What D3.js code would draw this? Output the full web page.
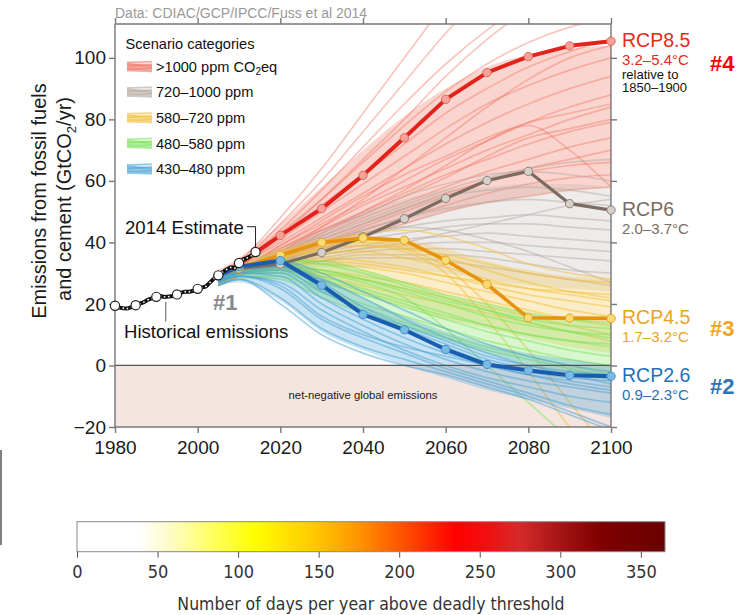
<!DOCTYPE html>
<html>
<head>
<meta charset="utf-8">
<script src="https://cdn.jsdelivr.net/npm/d3@7/dist/d3.min.js"></script>
<style>
  body { margin: 0; background: #fff; }
  svg { display: block; font-family: "Liberation Sans", Arial, sans-serif; }
</style>
</head>
<body>
<script>
  // historical emissions, GtCO2/yr
  const histYears = d3.range(1980, 2015)
  const histValues = [19.4, 18.8, 18.6, 18.5, 19.0, 19.6, 20.1, 20.6, 21.4, 21.8,
    22.3, 22.6, 22.3, 22.4, 22.6, 23.1, 23.7, 24.0, 24.0, 24.3,
    24.9, 25.3, 25.7, 27.0, 28.3, 29.3, 30.3, 31.2, 31.9, 31.6,
    33.3, 34.5, 35.0, 35.7, 36.9]
  const histMarkerYears = [1980, 1985, 1990, 1995, 2000, 2005, 2010, 2014]

  // scenario years (RCPs and ensemble runs)
  const runYears = [2005, 2010, 2020, 2030, 2040, 2050, 2060, 2070, 2080, 2090, 2100]

  const rcp85 = [29.2, 32.9, 42.3, 51.0, 61.8, 74.0, 86.5, 95.2, 100.4, 103.9, 105.4]
  const rcp6 = [29.2, 31.5, 33.0, 36.7, 41.8, 47.7, 54.3, 60.1, 63.1, 52.6, 50.5]
  const rcp45 = [29.2, 31.6, 35.8, 40.0, 41.4, 40.7, 34.2, 26.4, 15.5, 15.4, 15.3]
  const rcp26 = [29.2, 32.1, 34.1, 26.1, 16.6, 11.6, 5.2, 0.3, -1.6, -3.2, -3.5]

  const rcpNames = ['RCP8.5', 'RCP6', 'RCP4.5', 'RCP2.6']
  const rcpRanges = ['3.2–5.4°C', '2.0–3.7°C', '1.7–3.2°C', '0.9–2.3°C']
  const rcpRanks = ['#4', '', '#3', '#2']

  // ensemble runs by category
  const runsOver1000 = [
    [30, 34, 48, 64, 82, 100, 118, 135, 150, 160, 168],
    [29, 33, 46, 60, 76, 92, 108, 122, 134, 142, 148],
    [29, 33, 44, 57, 71, 85, 98, 109, 118, 124, 128],
    [28, 32, 42, 54, 67, 80, 94, 106, 116, 124, 130],
    [28, 32, 43, 54, 66, 78, 89, 98, 105, 110, 113],
    [29, 33, 42, 52, 62, 72, 82, 90, 97, 102, 106],
    [27, 30, 37, 45, 54, 64, 74, 84, 93, 100, 104],
    [28, 32, 41, 50, 59, 68, 77, 85, 91, 96, 100],
    [28, 32, 40, 48, 56, 64, 72, 79, 85, 90, 94],
    [28, 31, 39, 46, 53, 60, 67, 73, 79, 84, 88],
    [27, 31, 39, 47, 55, 62, 68, 74, 79, 82, 85],
    [27, 31, 38, 45, 52, 58, 64, 70, 75, 80, 84],
    [28, 31, 38, 44, 49, 55, 61, 68, 74, 77, 80],
    [27, 31, 37, 44, 50, 56, 62, 67, 72, 76, 79],
    [27, 30, 36, 43, 50, 57, 65, 73, 78, 70, 58],
    [27, 30, 36, 42, 48, 53, 58, 63, 67, 71, 74],
    [27, 30, 35, 41, 46, 51, 56, 60, 64, 67, 70],
    [26, 30, 35, 40, 45, 50, 55, 60, 63, 65, 66],
    [26, 29, 34, 39, 44, 48, 52, 56, 59, 61, 62],
    [26, 29, 34, 38, 42, 46, 50, 53, 55, 57, 58]
  ]
  const runs720 = [
    [29, 32, 37, 42, 47, 52, 57, 61, 64, 66, 67],
    [29, 32, 37, 43, 49, 55, 59, 62, 63, 62, 60],
    [29, 32, 36, 41, 46, 51, 55, 57, 58, 57, 55],
    [28, 31, 34, 36, 38, 40, 43, 46, 49, 52, 54],
    [28, 31, 35, 40, 44, 48, 51, 53, 54, 53, 52],
    [28, 31, 35, 39, 42, 45, 47, 48, 49, 48, 47],
    [28, 31, 34, 38, 41, 43, 45, 46, 46, 45, 44],
    [28, 31, 34, 37, 39, 41, 42, 43, 42, 41, 40],
    [28, 30, 33, 36, 38, 39, 40, 40, 39, 38, 37],
    [27, 30, 33, 35, 37, 38, 38, 37, 36, 35, 34],
    [27, 30, 32, 34, 36, 36, 36, 35, 33, 31, 30],
    [28, 31, 36, 40, 43, 45, 44, 41, 37, 32, 27],
    [27, 30, 32, 34, 35, 35, 34, 32, 30, 28, 26]
  ]
  const runs580 = [
    [28, 31, 36, 40, 43, 44, 42, 38, 33, 30, 28],
    [29, 32, 37, 40, 41, 39, 35, 31, 27, 24, 22],
    [28, 31, 35, 38, 39, 38, 36, 33, 30, 28, 27],
    [28, 31, 35, 37, 37, 35, 32, 28, 25, 23, 21],
    [27, 30, 33, 34, 33, 31, 29, 27, 25, 24, 23],
    [28, 31, 34, 35, 34, 32, 29, 26, 23, 21, 19],
    [27, 30, 33, 33, 32, 30, 27, 24, 21, 18, 16],
    [27, 30, 32, 31, 29, 27, 24, 21, 18, 15, 13],
    [27, 30, 31, 30, 28, 25, 22, 19, 16, 13, 10],
    [27, 30, 31, 29, 26, 23, 20, 17, 14, 11, 8],
    [28, 31, 35, 38, 39, 37, 30, 15, -2, -20, -35],
    [28, 31, 36, 39, 40, 38, 32, 20, 5, -12, -28]
  ]
  const runs480 = [
    [28, 31, 34, 34, 31, 27, 23, 20, 17, 15, 14],
    [28, 31, 34, 33, 30, 26, 22, 18, 15, 13, 12],
    [28, 31, 33, 31, 28, 24, 20, 16, 13, 11, 10],
    [27, 30, 32, 31, 28, 25, 21, 18, 14, 11, 9],
    [27, 30, 31, 28, 24, 20, 16, 13, 10, 8, 7],
    [27, 30, 32, 29, 25, 21, 17, 13, 10, 8, 6],
    [27, 30, 31, 27, 23, 19, 15, 11, 8, 5, 3],
    [27, 30, 30, 25, 20, 16, 12, 8, 5, 2, 0],
    [27, 29, 29, 24, 19, 14, 10, 6, 3, 0, -3],
    [26, 29, 28, 22, 17, 13, 9, 5, 2, -1, -4],
    [27, 30, 32, 30, 27, 22, 12, 0, -12, -24, -36]
  ]
  const runs430 = [
    [28, 31, 34, 30, 24, 18, 12, 7, 3, 0, -2],
    [28, 31, 33, 27, 19, 13, 8, 3, 0, -2, -3],
    [28, 30, 32, 28, 22, 15, 9, 4, 0, -3, -6],
    [28, 31, 32, 25, 17, 11, 6, 1, -2, -4, -5],
    [27, 30, 31, 24, 18, 12, 7, 2, -1, -3, -4],
    [27, 30, 30, 22, 15, 9, 4, 0, -3, -5, -7],
    [27, 30, 29, 20, 13, 7, 2, -2, -5, -7, -9],
    [27, 29, 27, 18, 11, 5, 0, -4, -7, -10, -12],
    [27, 29, 26, 16, 10, 6, 3, 0, -3, -6, -8],
    [27, 29, 25, 15, 9, 4, -1, -5, -9, -13, -16],
    [26, 28, 22, 12, 6, 2, -2, -6, -10, -15, -20],
    [26, 28, 20, 10, 4, 0, -3, -7, -11, -16, -21]
  ]

  // dense core of each category (lower / upper edge, same years)
  const coreLow = [
    [26, 29, 34, 38, 42, 46, 50, 53, 55, 57, 58],
    [27, 29, 31, 32, 32, 31, 30, 28, 26, 25, 24],
    [27, 29, 30, 27, 23, 19, 15, 12, 9, 6, 4],
    [26, 28, 28, 22, 17, 12, 8, 4, 0, -3, -5],
    [26, 27, 21, 11, 5, 0, -4, -8, -11, -14, -17]
  ]
  const coreHigh = [
    [31, 35, 46, 58, 70, 81, 90, 97, 101, 103, 104],
    [30, 33, 38, 44, 50, 54, 57, 58, 59, 59, 58],
    [30, 33, 38, 41, 42, 41, 38, 34, 31, 29, 28],
    [29, 32, 35, 34, 31, 27, 23, 20, 17, 15, 14],
    [29, 32, 34, 29, 22, 16, 11, 7, 4, 2, 0]
  ]

  const categoryNames = ['>1000 ppm CO₂eq', '720–1000 ppm', '580–720 ppm', '480–580 ppm', '430–480 ppm']

  // colour bar
  const barTicks = [0, 50, 100, 150, 200, 250, 300, 350]
  const barStopDays = [0, 38, 55, 80, 110, 150, 175, 205, 235, 255, 275, 300, 325, 365]
  const barStopColors = ['#ffffff', '#ffffff', '#fffbd0', '#ffff70', '#ffff00', '#ffc400', '#ff9400',
    '#ff4a00', '#ff0000', '#f01010', '#d42a2a', '#a51414', '#800000', '#6a0000']

  // ---------- drawing ----------
  const W = 740, H = 615
  const svg = d3.select('body').append('svg').attr('width', W).attr('height', H)

  const x = d3.scaleLinear().domain([1980, 2100]).range([115, 611])
  const y = d3.scaleLinear().domain([-20, 111]).range([427, 24])

  const runColors = ['#f0705e', '#b3a79e', '#f2c03a', '#7ee35c', '#4aa3d6']
  const runOpacity = [0.4, 0.45, 0.5, 0.5, 0.5]
  const coreOpacity = [0.3, 0.22, 0.28, 0.3, 0.3]
  const rcpColors = ['#e3231b', '#7b6b60', '#e8930c', '#1a5db0']
  const rcpFill = ['#f5a39a', '#d6d0ca', '#f8dc72', '#78bce6']
  const rcpStroke = ['#e06a5c', '#8c8078', '#e0a42a', '#4a90c8']
  const rcpText = ['#e8291c', '#7a6c62', '#eba320', '#1f6fb8']
  const rankColors = ['#ff0000', '', '#f2a320', '#2e74b5']

  svg.append('text').attr('x', 115).attr('y', 18)
    .attr('fill', '#999').attr('font-size', 14)
    .text('Data: CDIAC/GCP/IPCC/Fuss et al 2014')

  svg.append('clipPath').attr('id', 'plotClip')
    .append('rect').attr('x', x(1980)).attr('y', y(111))
    .attr('width', x(2100) - x(1980)).attr('height', y(-20) - y(111))

  // net-negative band
  svg.append('rect').attr('x', x(1980)).attr('y', y(0))
    .attr('width', x(2100) - x(1980)).attr('height', y(-20) - y(0))
    .attr('fill', '#f5e5e0')
  svg.append('text').attr('x', 363).attr('y', 395).attr('dy', '0.35em')
    .attr('text-anchor', 'middle').attr('font-size', 11.3).attr('fill', '#222')
    .text('net-negative global emissions')

  const runLine = d3.line()
    .x((d, i) => x(runYears[i])).y(d => y(d))
    .curve(d3.curveMonotoneX)
  const coreArea = d3.area()
    .x((d, i) => x(runYears[i])).y0(d => y(d[0])).y1(d => y(d[1]))
    .curve(d3.curveMonotoneX)

  const runGroup = svg.append('g').attr('clip-path', 'url(#plotClip)')
  const allRuns = [runsOver1000, runs720, runs580, runs480, runs430]
  allRuns.forEach((runs, k) => {
    runGroup.append('path')
      .datum(coreLow[k].map((lo, i) => [lo, coreHigh[k][i]]))
      .attr('d', coreArea)
      .attr('fill', runColors[k]).attr('fill-opacity', coreOpacity[k])
    runGroup.append('g').selectAll('path').data(runs).join('path')
      .attr('d', runLine)
      .attr('fill', 'none')
      .attr('stroke', runColors[k])
      .attr('stroke-opacity', runOpacity[k])
      .attr('stroke-width', 1.7)
  })

  // zero line
  svg.append('line').attr('x1', x(1980)).attr('x2', x(2100))
    .attr('y1', y(0)).attr('y2', y(0))
    .attr('stroke', '#555').attr('stroke-width', 1.2)

  // axes
  const axisColor = '#777'
  const frame = svg.append('g').attr('stroke', axisColor).attr('stroke-width', 1.4).attr('fill', 'none')
  frame.append('line').attr('x1', x(1980)).attr('x2', x(2100)).attr('y1', y(111)).attr('y2', y(111))
  frame.append('line').attr('x1', x(1980)).attr('x2', x(2100)).attr('y1', y(-20)).attr('y2', y(-20))
  frame.append('line').attr('x1', x(1980)).attr('x2', x(1980)).attr('y1', y(111)).attr('y2', y(-20))
  frame.append('line').attr('x1', x(2100)).attr('x2', x(2100)).attr('y1', y(111)).attr('y2', y(-20))

  const xTicks = d3.range(1980, 2101, 20)
  const yTicks = d3.range(-20, 101, 20)

  const bottomAxis = svg.append('g').attr('transform', `translate(0,${y(-20)})`)
    .call(d3.axisBottom(x).tickValues(xTicks).tickFormat(d3.format('d')).tickSize(6).tickPadding(5))
  const topAxis = svg.append('g').attr('transform', `translate(0,${y(111)})`)
    .call(d3.axisTop(x).tickValues(xTicks).tickFormat('').tickSize(6))
  const leftAxis = svg.append('g').attr('transform', `translate(${x(1980)},0)`)
    .call(d3.axisLeft(y).tickValues(yTicks).tickSize(6).tickPadding(3))
  const rightAxis = svg.append('g').attr('transform', `translate(${x(2100)},0)`)
    .call(d3.axisRight(y).tickValues(yTicks).tickFormat('').tickSize(6))

  ;[bottomAxis, topAxis, leftAxis, rightAxis].forEach(a => {
    a.select('.domain').remove()
    a.selectAll('.tick line').attr('stroke', axisColor).attr('stroke-width', 1.4)
    a.selectAll('.tick text').attr('fill', '#1a1a1a').attr('font-size', 19)
      .attr('font-family', '"Liberation Sans", Arial, sans-serif')
  })
  bottomAxis.selectAll('.tick text').attr('dy', '0.85em')

  // y-axis title
  const yTitle = svg.append('g').attr('font-size', 20).attr('fill', '#1a1a1a').attr('text-anchor', 'middle')
  yTitle.append('text').attr('transform', 'translate(46,201) rotate(-90)').text('Emissions from fossil fuels')
  const t2 = yTitle.append('text').attr('transform', 'translate(71,199) rotate(-90)')
  t2.append('tspan').text('and cement (GtCO')
  t2.append('tspan').attr('font-size', 13).attr('dy', 5).text('2')
  t2.append('tspan').attr('dy', -5).text('/yr)')

  // RCP pathways
  const rcpLine = d3.line().x((d, i) => x(runYears[i])).y(d => y(d))
  const rcpSeries = [rcp85, rcp6, rcp45, rcp26]
  const drawOrder = [1, 2, 0, 3]
  const rcpWidths = [4, 3.2, 3.6, 4]
  drawOrder.forEach(k => {
    const g = svg.append('g')
    g.append('path').datum(rcpSeries[k]).attr('d', rcpLine)
      .attr('fill', 'none').attr('stroke', rcpColors[k])
      .attr('stroke-width', rcpWidths[k]).attr('stroke-linejoin', 'round')
    g.selectAll('circle').data(rcpSeries[k]).join('circle')
      .attr('cx', (d, i) => x(runYears[i])).attr('cy', d => y(d)).attr('r', 4.2)
      .attr('fill', rcpFill[k]).attr('stroke', rcpStroke[k]).attr('stroke-width', 1)
  })

  // RCP labels on the right
  rcpSeries.forEach((s, k) => {
    const yy = y(s[s.length - 1])
    svg.append('text').attr('x', 622).attr('y', yy - 1).attr('dy', '0.36em')
      .attr('font-size', 19.5).attr('fill', rcpText[k]).text(rcpNames[k])
    svg.append('text').attr('x', 622).attr('y', yy + 18).attr('dy', '0.36em')
      .attr('font-size', 15).attr('fill', rcpText[k]).text(rcpRanges[k])
    if (rcpRanks[k]) {
      svg.append('text').attr('x', 710).attr('y', yy + (k === 0 ? 22 : 10)).attr('dy', '0.36em')
        .attr('font-size', 22).attr('font-weight', 'bold').attr('fill', rankColors[k]).text(rcpRanks[k])
    }
  })
  svg.append('text').attr('x', 622).attr('y', y(rcp85[10]) + 33).attr('dy', '0.36em')
    .attr('font-size', 13).attr('fill', '#111').text('relative to')
  svg.append('text').attr('x', 622).attr('y', y(rcp85[10]) + 46.5).attr('dy', '0.36em')
    .attr('font-size', 13).attr('fill', '#111').text('1850–1900')

  // historical emissions
  const histLine = d3.line().x((d, i) => x(histYears[i])).y(d => y(d))
  svg.append('path').datum(histValues).attr('d', histLine)
    .attr('fill', 'none').attr('stroke', '#111').attr('stroke-width', 4)
  svg.append('g').selectAll('circle').data(histValues).join('circle')
    .attr('cx', (d, i) => x(histYears[i])).attr('cy', d => y(d)).attr('r', 0.9).attr('fill', '#fff')
  svg.append('g').selectAll('circle').data(histMarkerYears).join('circle')
    .attr('cx', d => x(d)).attr('cy', d => y(histValues[d - 1980])).attr('r', 4.6)
    .attr('fill', '#fff').attr('stroke', '#222').attr('stroke-width', 1.2)

  // annotations
  svg.append('text').attr('x', 125).attr('y', 227.5).attr('dy', '0.36em')
    .attr('font-size', 18.6).attr('fill', '#111').text('2014 Estimate')
  svg.append('path').attr('d', `M247,226.7H${x(2014)}V${y(histValues[34]) - 5}`)
    .attr('fill', 'none').attr('stroke', '#222').attr('stroke-width', 1)
  svg.append('line').attr('x1', 165.7).attr('x2', 165.7).attr('y1', y(22.3) + 5).attr('y2', 321.5)
    .attr('stroke', '#777').attr('stroke-width', 1.2)
  svg.append('text').attr('x', 124).attr('y', 331.5).attr('dy', '0.36em')
    .attr('font-size', 18.6).attr('fill', '#111').text('Historical emissions')
  svg.append('text').attr('x', 213).attr('y', 302).attr('dy', '0.36em')
    .attr('font-size', 22).attr('font-weight', 'bold').attr('fill', '#888').text('#1')

  // legend
  const legend = svg.append('g')
  legend.append('text').attr('x', 125.5).attr('y', 43.5).attr('dy', '0.36em')
    .attr('font-size', 14.6).attr('fill', '#111').text('Scenario categories')
  const swatchLines = [[-4, -5], [-2, -1], [0, -2], [1, 2], [3, 2], [4, 5], [-1, 1], [-3, 0], [2, 4]]
  categoryNames.forEach((name, k) => {
    const cy = 66.5 + k * 25.6
    const sw = legend.append('g')
    sw.append('rect').attr('x', 127).attr('y', cy - 5).attr('width', 25).attr('height', 10)
      .attr('fill', runColors[k]).attr('fill-opacity', 0.25)
    swatchLines.forEach(([a, b]) => {
      sw.append('line').attr('x1', 127).attr('x2', 152).attr('y1', cy + a).attr('y2', cy + b)
        .attr('stroke', runColors[k]).attr('stroke-opacity', 0.5).attr('stroke-width', 1.5)
    })
    const t = legend.append('text').attr('x', 156).attr('y', cy).attr('dy', '0.36em')
      .attr('font-size', 14.6).attr('fill', '#111')
    if (k === 0) {
      t.append('tspan').text('>1000 ppm CO')
      t.append('tspan').attr('font-size', 10).attr('dy', 3).text('2')
      t.append('tspan').attr('dy', -3).text('eq')
    } else {
      t.text(name)
    }
  })

  // stray edge line at left
  svg.append('line').attr('x1', 1).attr('x2', 1).attr('y1', 450).attr('y2', 545)
    .attr('stroke', '#555').attr('stroke-width', 1.5)

  // colour bar
  const cb = d3.scaleLinear().domain([0, 365]).range([77, 665])
  const grad = svg.append('defs').append('linearGradient').attr('id', 'heatGrad')
  grad.selectAll('stop').data(barStopDays).join('stop')
    .attr('offset', d => d / 365).attr('stop-color', (d, i) => barStopColors[i])
  svg.append('rect').attr('x', cb(0)).attr('y', 521.7).attr('width', cb(365) - cb(0)).attr('height', 30)
    .attr('fill', 'url(#heatGrad)').attr('stroke', '#888').attr('stroke-width', 1)
  const cbAxis = svg.append('g').attr('transform', 'translate(0,551.7)')
    .call(d3.axisBottom(cb).tickValues(barTicks).tickSize(6).tickPadding(8))
  cbAxis.select('.domain').remove()
  cbAxis.selectAll('.tick line').attr('stroke', '#555')
  cbAxis.selectAll('.tick text').attr('font-size', 18).attr('fill', '#333')
    .attr('font-family', '"DejaVu Sans Condensed", "Liberation Sans", sans-serif')
  svg.append('text').attr('x', 371).attr('y', 603.5).attr('dy', '0.36em').attr('text-anchor', 'middle')
    .attr('font-size', 17.5).attr('fill', '#333')
    .attr('font-family', '"DejaVu Sans Condensed", "Liberation Sans", sans-serif')
    .text('Number of days per year above deadly threshold')
</script>
</body>
</html>
